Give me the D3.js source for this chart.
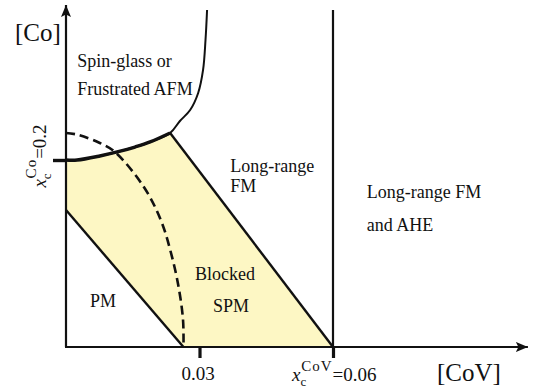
<!DOCTYPE html>
<html>
<head>
<meta charset="utf-8">
<script src="https://cdn.jsdelivr.net/npm/d3@7"></script>
<style>
  body { margin: 0; background: #fff; }
  svg { display: block; }
</style>
</head>
<body>
<svg id="chart" width="536" height="392"></svg>
<script>
// Magnetic phase diagram: [CoV] on x, [Co] on y

// Spin-glass / frustrated AFM boundary (thick lower part, then thin upturn)
const sgBoundaryLow = [[0, 0.2], [0.0025, 0.2], [0.0076, 0.2043], [0.0115, 0.2086],
  [0.0155, 0.2139], [0.0189, 0.2193], [0.0234, 0.2289]];
const sgBoundaryHigh = [[0.0234, 0.2289], [0.0256, 0.2417], [0.0279, 0.2535],
  [0.0297, 0.2717], [0.0308, 0.2963], [0.03135, 0.3283], [0.0317, 0.3604]];
// PM / blocked SPM boundary
const pmBoundary = [[0, 0.1465], [0.0264, 0]];
// Blocked SPM / long-range FM boundary
const fmBoundary = [[0.0234, 0.2289], [0.06, 0]];
// Dashed crossover curve
const dashedCurve = [[0, 0.2289], [0.0025, 0.2272], [0.0076, 0.2182], [0.0110, 0.2086],
  [0.0175, 0.1711], [0.0213, 0.1358], [0.0236, 0.1005], [0.0253, 0.0642], [0.0263, 0.0289], [0.0264, 0]];
// Percolation threshold of CoV
const aheBoundary = [[0.06, 0], [0.06, 0.3604]];

const xTicks = [0.03, 0.06];
const yTicks = [0.2];
const xAxisEnd = 0.1038;
const yAxisEnd = 0.3658;

const regionLabels = [
  { lines: ["Spin-glass or", "Frustrated AFM"], x: 0.0025, y: 0.2994, gap: 28 },
  { lines: ["Long-range", "FM"], x: 0.0369, y: 0.1872, gap: 20 },
  { lines: ["Long-range FM", "and AHE"], x: 0.0676, y: 0.1594, gap: 33 },
  { lines: ["Blocked", "SPM"], x: 0.0290, y: 0.0716, gap: 32, indent: 18 },
  { lines: ["PM"], x: 0.0054, y: 0.0428, gap: 0 }
];

const FONT = "'Liberation Serif', 'Times New Roman', 'DejaVu Serif', serif";

const svg = d3.select("#chart")
  .attr("font-family", FONT)
  .style("font-family", FONT);
const x = d3.scaleLinear().domain([0, 0.06]).range([66, 333]);
const y = d3.scaleLinear().domain([0, 0.2]).range([347, 160]);

const defs = svg.append("defs");
defs.append("marker")
  .attr("id", "arrow")
  .attr("viewBox", "0 0 12 10")
  .attr("refX", 12).attr("refY", 5)
  .attr("markerWidth", 12).attr("markerHeight", 10)
  .attr("markerUnits", "userSpaceOnUse")
  .attr("orient", "auto")
  .append("path")
  .attr("d", "M0,0 L12,5 L0,10 L2.5,5 Z")
  .attr("fill", "#111");

const line = d3.line().x(d => x(d[0])).y(d => y(d[1]));
const smooth = d3.line().x(d => x(d[0])).y(d => y(d[1])).curve(d3.curveCatmullRom.alpha(0.5));

// Blocked SPM area
const fillPts = sgBoundaryLow
  .concat(fmBoundary.slice(1))
  .concat(pmBoundary.slice().reverse());
svg.append("path")
  .attr("d", line(fillPts))
  .attr("fill", "#fdf7c4");

// axes
svg.append("line")
  .attr("x1", x(0)).attr("y1", y(0)).attr("x2", x(0)).attr("y2", y(yAxisEnd))
  .attr("stroke", "#111").attr("stroke-width", 2.2)
  .attr("marker-end", "url(#arrow)");
svg.append("line")
  .attr("x1", x(0) - 1).attr("y1", y(0)).attr("x2", x(xAxisEnd)).attr("y2", y(0))
  .attr("stroke", "#111").attr("stroke-width", 2.2)
  .attr("marker-end", "url(#arrow)");

const xAxis = svg.append("g")
  .attr("transform", `translate(0,${y(0)})`)
  .call(d3.axisBottom(x).tickValues(xTicks).tickSize(11).tickPadding(9)
    .tickFormat(d => d === 0.03 ? "0.03" : ""));
xAxis.attr("font-family", null);
xAxis.select(".domain").remove();
xAxis.selectAll(".tick line").attr("stroke", "#111").attr("stroke-width", 3.2);
xAxis.selectAll(".tick text")
  .style("font-family", FONT).attr("font-size", 19).attr("fill", "#111")
  .attr("dx", -2);

const yAxis = svg.append("g")
  .attr("transform", `translate(${x(0)},0)`)
  .call(d3.axisLeft(y).tickValues(yTicks).tickSize(13).tickFormat(""));
yAxis.select(".domain").remove();
yAxis.selectAll(".tick line").attr("stroke", "#111").attr("stroke-width", 3.4);

// boundaries: whole spin-glass line drawn thin, its lower part thickened on top
svg.append("path").attr("d", smooth(sgBoundaryLow.concat(sgBoundaryHigh.slice(1))))
  .attr("fill", "none").attr("stroke", "#111").attr("stroke-width", 2);
svg.append("path").attr("d", smooth(sgBoundaryLow))
  .attr("fill", "none").attr("stroke", "#111").attr("stroke-width", 3.4);
svg.append("path").attr("d", line(pmBoundary))
  .attr("fill", "none").attr("stroke", "#111").attr("stroke-width", 2.4);
svg.append("path").attr("d", line(fmBoundary))
  .attr("fill", "none").attr("stroke", "#111").attr("stroke-width", 2.4);
svg.append("path").attr("d", line(aheBoundary))
  .attr("fill", "none").attr("stroke", "#111").attr("stroke-width", 2.2);
svg.append("path").attr("d", smooth(dashedCurve))
  .attr("fill", "none").attr("stroke", "#111").attr("stroke-width", 2.6)
  .attr("stroke-dasharray", "9,5");

// region labels
const textG = svg.append("g").style("font-family", FONT).attr("fill", "#111");
regionLabels.forEach(r => {
  const t = textG.append("text")
    .attr("x", x(r.x)).attr("y", y(r.y))
    .attr("font-size", 18);
  r.lines.forEach((s, i) => {
    t.append("tspan")
      .attr("x", x(r.x) + (r.indent && i === 1 ? r.indent : 0))
      .attr("dy", i === 0 ? 0 : r.gap)
      .text(s);
  });
});

// axis titles
textG.append("text").attr("x", 15).attr("y", 41).attr("font-size", 25).text("[Co]");
textG.append("text").attr("x", 437).attr("y", 381).attr("font-size", 25).text("[CoV]");

// critical concentration labels
const xc = textG.append("text")
  .attr("x", x(0.06) - 41).attr("y", y(0) + 34)
  .attr("font-size", 19);
xc.append("tspan").attr("font-style", "italic").text("x");
xc.append("tspan").attr("font-size", 13).attr("dy", 5).text("c");
xc.append("tspan").attr("font-size", 15).attr("dx", -5).attr("dy", -15)
  .attr("letter-spacing", 1).text("CoV");
xc.append("tspan").attr("dy", 10).text("=0.06");

const yc = textG.append("text")
  .attr("transform", `translate(46,${y(0.2) - 4}) rotate(-90)`)
  .attr("text-anchor", "middle")
  .attr("font-size", 19);
yc.append("tspan").attr("font-style", "italic").text("x");
yc.append("tspan").attr("font-size", 13).attr("dy", 5).text("c");
yc.append("tspan").attr("font-size", 15).attr("dx", -5).attr("dy", -15)
  .attr("letter-spacing", 1).text("Co");
yc.append("tspan").attr("dy", 10).text("=0.2");
</script>
</body>
</html>
